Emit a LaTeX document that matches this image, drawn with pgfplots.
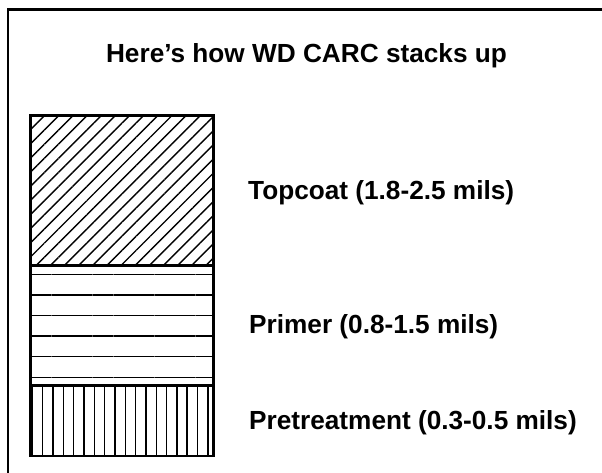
\documentclass[border=0pt]{standalone}
\usepackage{fontspec}
\setmainfont{Liberation Sans}
\usepackage{pgfplots}
\pgfplotsset{compat=1.18}
\usetikzlibrary{patterns.meta}
\begin{document}
\begin{tikzpicture}
\begin{axis}[
  width=602pt, height=473pt, scale only axis,
  xmin=0, xmax=602, ymin=-17, ymax=456,
  hide axis, clip=true,
  ybar stacked, bar width=183pt,
  font=\fontsize{26.2}{30}\selectfont\bfseries,
]
% Layers (heights, bottom to top)
\addplot[draw=black, line width=2.4pt, fill=white,
  postaction={pattern={Lines[angle=90,distance=10.33pt,xshift=1.3pt,line width=1.5pt]}, pattern color=black}]
  coordinates {(122,70.5)};
\addplot[draw=black, line width=2.4pt, fill=white,
  postaction={pattern={Lines[angle=0,distance=20.6pt,yshift=13.3pt,line width=1.5pt]}, pattern color=black}]
  coordinates {(122,120)};
\addplot[draw=black, line width=2.4pt, fill=white,
  postaction={pattern={Lines[angle=45,distance=10pt,xshift=12.5pt,line width=1.4pt]}, pattern color=black}]
  coordinates {(122,150)};
% frame
\draw[line width=2.4pt] (axis cs:8,-17) -- (axis cs:8,446.5) -- (axis cs:602,446.5);
% title and labels
\node[anchor=base, inner sep=0pt] at (axis cs:306.5,393.7) {Here’s how WD CARC stacks up};
\node[anchor=base west, inner sep=0pt] at (axis cs:248,256.7) {Topcoat (1.8-2.5 mils)};
\node[anchor=base west, inner sep=0pt] at (axis cs:249,122) {Primer (0.8-1.5 mils)};
\node[anchor=base west, inner sep=0pt] at (axis cs:249,26) {Pretreatment (0.3-0.5 mils)};
\end{axis}
\pgfresetboundingbox
\path[use as bounding box] (current axis.south west) rectangle (current axis.north east);
\end{tikzpicture}
\end{document}
